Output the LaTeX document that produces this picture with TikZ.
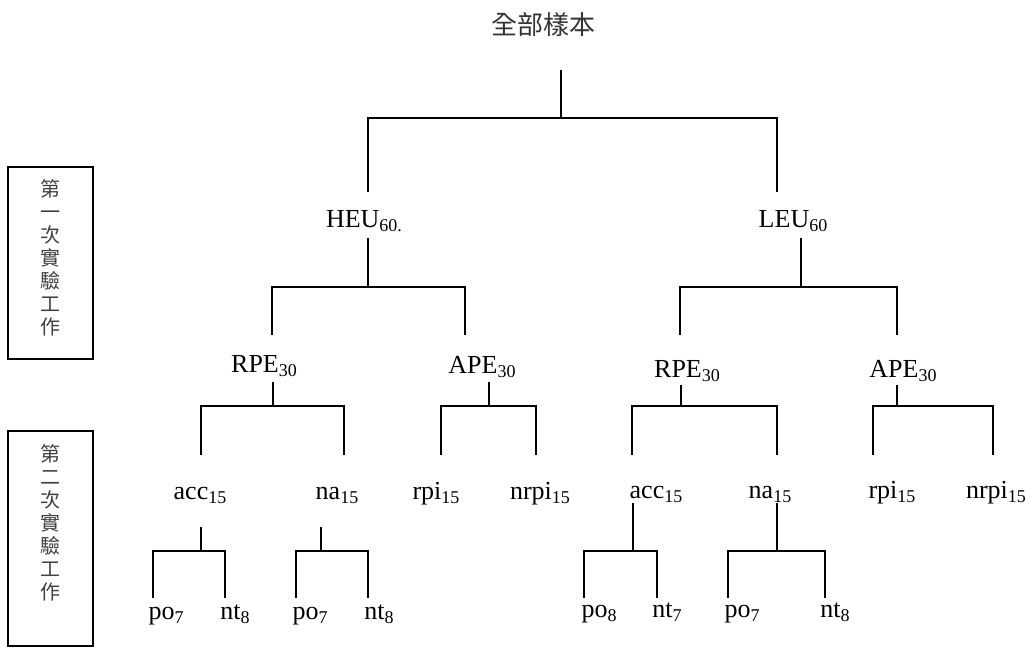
\documentclass[tikz,border=0pt]{standalone}
\usepackage{fontspec}
\setmainfont{Liberation Serif}
\newfontfamily\cjk{Noto Sans CJK TC}
% lowered, smaller digits after a group name
\newcommand\subs[1]{\raisebox{-4pt}{\fontsize{18}{18}\selectfont #1}}
\begin{document}
\begin{tikzpicture}[x=1pt,y=-1pt,
  lbl/.style={anchor=base, inner sep=0pt, font=\fontsize{26}{30}\selectfont},
  title/.style={inner sep=0pt, text=black!80, font=\cjk\fontsize{26}{30}\selectfont},
  sidetext/.style={inner sep=0pt, align=center, text=black!75,
    font=\cjk\fontsize{20}{23}\selectfont},
  sidebox/.style={draw, line width=1.8pt, inner sep=0pt},
  conn/.style={line width=1.6pt}]
\useasboundingbox (0,0) rectangle (1031,647);

% side frames naming the two experiment stages
\node[sidebox, minimum width=85pt, minimum height=192pt] (box1) at (50.5,263) {};
\node[sidebox, minimum width=85pt, minimum height=215pt] (box2) at (50.5,538.5) {};
\node[sidetext] (stage1) at (50,257.5) {第\\一\\次\\實\\驗\\工\\作};
\node[sidetext] (stage2) at (50,523) {第\\二\\次\\實\\驗\\工\\作};

% labels
\node[title] (root) at (543,25) {全部樣本};
\node[lbl] (heu) at (364,228) {HEU\subs{60.}};
\node[lbl] (leu) at (793,228) {LEU\subs{60}};
\node[lbl] (rpeL) at (264,372) {RPE\subs{30}};
\node[lbl] (apeL) at (482,373) {APE\subs{30}};
\node[lbl] (rpeR) at (687,377) {RPE\subs{30}};
\node[lbl] (apeR) at (903,377) {APE\subs{30}};
\node[lbl] (accL) at (200,499) {acc\subs{15}};
\node[lbl] (naL) at (337,499) {na\subs{15}};
\node[lbl] (rpiL) at (436,499) {rpi\subs{15}};
\node[lbl] (nrpiL) at (540,499) {nrpi\subs{15}};
\node[lbl] (accR) at (656,498) {acc\subs{15}};
\node[lbl] (naR) at (770,498) {na\subs{15}};
\node[lbl] (rpiR) at (892,498) {rpi\subs{15}};
\node[lbl] (nrpiR) at (996,498) {nrpi\subs{15}};
\node[lbl] (poL1) at (166,619) {po\subs{7}};
\node[lbl] (ntL1) at (235,619) {nt\subs{8}};
\node[lbl] (poL2) at (310,619) {po\subs{7}};
\node[lbl] (ntL2) at (379,619) {nt\subs{8}};
\node[lbl] (poR1) at (599,617) {po\subs{8}};
\node[lbl] (ntR1) at (667,617) {nt\subs{7}};
\node[lbl] (poR2) at (742,617) {po\subs{7}};
\node[lbl] (ntR2) at (835,617) {nt\subs{8}};

% stem tops (-s), junctions (-j) and drop ends (-t)
\coordinate (root-s) at (561,70);  \coordinate (root-j) at (561,118);
\coordinate (heu-t) at (368,192);  \coordinate (leu-t) at (777,192);
\coordinate (heu-s) at (368,238);  \coordinate (heu-j) at (368,287);
\coordinate (rpeL-t) at (272,335); \coordinate (apeL-t) at (465,335);
\coordinate (leu-s) at (801,238);  \coordinate (leu-j) at (801,287);
\coordinate (rpeR-t) at (680,335); \coordinate (apeR-t) at (897,335);
\coordinate (rpeL-s) at (273,382); \coordinate (rpeL-j) at (273,406);
\coordinate (accL-t) at (201,455); \coordinate (naL-t) at (344,455);
\coordinate (apeL-s) at (489,382); \coordinate (apeL-j) at (489,406);
\coordinate (rpiL-t) at (441,455); \coordinate (nrpiL-t) at (536,455);
\coordinate (rpeR-s) at (681,385); \coordinate (rpeR-j) at (681,406);
\coordinate (accR-t) at (632,455); \coordinate (naR-t) at (777,455);
\coordinate (apeR-s) at (897,385); \coordinate (apeR-j) at (897,406);
\coordinate (rpiR-t) at (873,455); \coordinate (nrpiR-t) at (993,455);
\coordinate (accL-s) at (201,527); \coordinate (accL-j) at (201,551);
\coordinate (poL1-t) at (153,598); \coordinate (ntL1-t) at (225,598);
\coordinate (naL-s) at (321,527);  \coordinate (naL-j) at (321,551);
\coordinate (poL2-t) at (296,598); \coordinate (ntL2-t) at (368,598);
\coordinate (accR-s) at (633,503); \coordinate (accR-j) at (633,551);
\coordinate (poR1-t) at (584,598); \coordinate (ntR1-t) at (657,598);
\coordinate (naR-s) at (777,503);  \coordinate (naR-j) at (777,551);
\coordinate (poR2-t) at (728,598); \coordinate (ntR2-t) at (825,598);

% tree brackets
\foreach \p/\a/\b in {root/heu/leu, heu/rpeL/apeL, leu/rpeR/apeR,
    rpeL/accL/naL, apeL/rpiL/nrpiL, rpeR/accR/naR, apeR/rpiR/nrpiR,
    accL/poL1/ntL1, naL/poL2/ntL2, accR/poR1/ntR1, naR/poR2/ntR2}{
  \draw[conn] (\p-s) -- (\p-j);
  \draw[conn] (\a-t) |- (\p-j) -| (\b-t);
}
\end{tikzpicture}
\end{document}
